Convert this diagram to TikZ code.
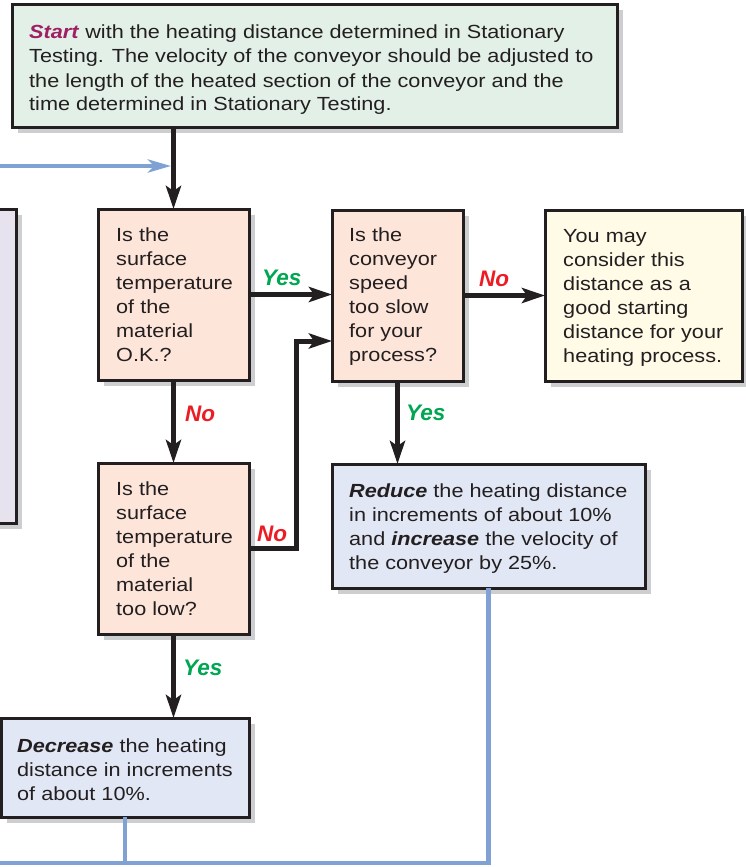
\documentclass[tikz,border=0pt]{standalone}
\usepackage{fontspec}
\setmainfont{Liberation Sans}[FakeStretch=1.14]
\newfontfamily\lblfont{Liberation Sans}
\usetikzlibrary{arrows.meta,shadows,calc}
\definecolor{edgec}{RGB}{35,31,32}
\definecolor{startfill}{RGB}{226,240,231}
\definecolor{qfill}{RGB}{253,229,218}
\definecolor{finfill}{RGB}{255,251,231}
\definecolor{actfill}{RGB}{225,231,244}
\definecolor{purfill}{RGB}{230,226,238}
\definecolor{shadowc}{RGB}{205,206,208}
\definecolor{startc}{RGB}{158,31,99}
\definecolor{yesc}{RGB}{0,166,81}
\definecolor{noc}{RGB}{237,28,36}
\definecolor{bluec}{RGB}{127,161,212}
\newcommand\bt[1]{\textbf{\textit{#1}}}
\newcommand\boxtext[1]{\parbox[t]{650pt}{\raggedright #1}}
\begin{document}
\begin{tikzpicture}[x=1pt,y=-1pt,
  box/.style={draw=edgec, line width=3pt, inner sep=0pt, outer sep=0pt, anchor=north west,
    drop shadow={shadow xshift=5.5pt, shadow yshift=-5.5pt, fill=shadowc, opacity=1}},
  txt/.style={anchor=base west, inner sep=0pt, text=edgec, font=\fontsize{19}{24}\selectfont},
  lbl/.style={anchor=base west, inner sep=0pt, font=\lblfont\fontsize{22.5}{26}\selectfont\bfseries\itshape},
  yes/.style={lbl, text=yesc},
  no/.style={lbl, text=noc},
  arr/.style={draw=edgec, line width=5pt, -{Stealth[length=23pt,width=15pt,inset=5pt]}},
  blu/.style={draw=bluec, line width=4.5pt},
  bluarr/.style={blu, -{Stealth[length=23pt,width=13pt,inset=6pt]}}]
\fill[white] (0,0) rectangle (746,867);
\useasboundingbox (0,0) rectangle (746,867);
% boxes
\node[box, fill=startfill, minimum width=605pt, minimum height=122pt] (start) at (12,5) {};
\node[box, fill=purfill, minimum width=31pt, minimum height=314pt] (pur) at (-15,209) {};
\node[box, fill=qfill, minimum width=151pt, minimum height=171pt] (q1) at (98,209) {};
\node[box, fill=qfill, minimum width=151pt, minimum height=171pt] (q2) at (98,463) {};
\node[box, fill=qfill, minimum width=131pt, minimum height=171pt] (q3) at (332,210) {};
\node[box, fill=finfill, minimum width=197pt, minimum height=171pt] (fin) at (545,210) {};
\node[box, fill=actfill, minimum width=313pt, minimum height=124pt] (red) at (332,464) {};
\node[box, fill=actfill, minimum width=248pt, minimum height=99pt] (dec) at (1,718) {};
% texts
\node[txt] (tstart) at (29,39) {\boxtext{\textcolor{startc}{\bt{Start}} with the heating distance determined in Stationary\\Testing. The velocity of the conveyor should be adjusted to\\the length of the heated section of the conveyor and the\\time determined in Stationary Testing.}};
\node[txt] (tq1) at (116,241) {\boxtext{Is the\\surface\\temperature\\of the\\material\\O.K.?}};
\node[txt] (tq2) at (116,495) {\boxtext{Is the\\surface\\temperature\\of the\\material\\too low?}};
\node[txt] (tq3) at (349,241) {\boxtext{Is the\\conveyor\\speed\\too slow\\for your\\process?}};
\node[txt] (tfin) at (563,242) {\boxtext{You may\\consider this\\distance as a\\good starting\\distance for your\\heating process.}};
\node[txt] (tred) at (349,497) {\boxtext{\bt{Reduce} the heating distance\\in increments of about 10\%\\and \bt{increase} the velocity of\\the conveyor by 25\%.}};
\node[txt] (tdec) at (17,752) {\boxtext{\bt{Decrease} the heating\\distance in increments\\of about 10\%.}};
% blue feedback loop
\coordinate (merge) at (171,166);
\coordinate (bot) at (0,863);
\draw[blu] (dec.south) -- (dec.south |- bot);
\draw[bluarr] (red.south) -- (red.south |- bot) -- (-20,863) -- (-20,166) -- (merge);
% black connectors
\draw[arr] (q1.north |- start.south) -- (q1.north);
\draw[arr] (q1.east) -- (q3.west |- q1.east);
\draw[arr] (q3.east) -- (fin.west);
\draw[arr] (q1.south) -- (q2.north);
\coordinate (kink) at (296,341);
\draw[arr] (q2.east) -| (kink) -- (q3.west |- kink);
\draw[arr] (q3.south) -- (red.north -| q3.south);
\draw[arr] (q2.south) -- (dec.north -| q2.south);
% labels
\node[yes] (ly1) at (262,285) {Yes};
\node[no] (ln1) at (479,286) {No};
\node[no] (ln2) at (185,421.5) {No};
\node[yes] (ly2) at (406,420.5) {Yes};
\node[no] (ln3) at (257,541.5) {No};
\node[yes] (ly3) at (183,675) {Yes};
\end{tikzpicture}
\end{document}
